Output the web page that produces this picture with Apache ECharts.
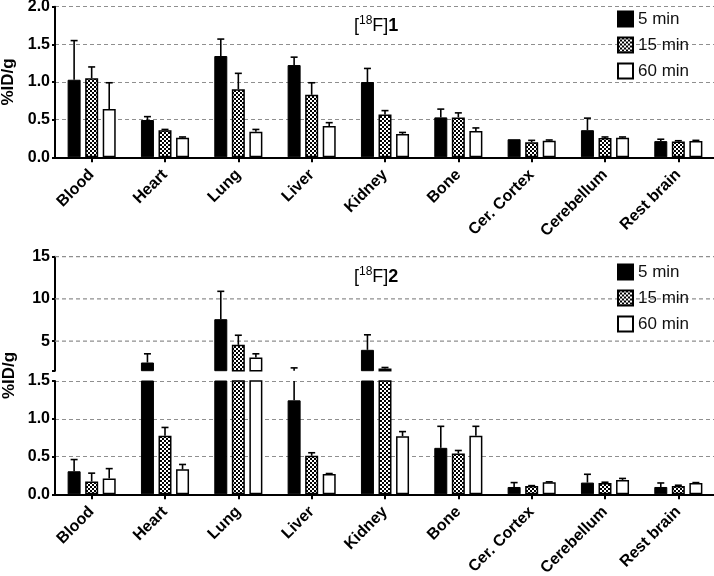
<!DOCTYPE html>
<html><head><meta charset="utf-8">
<script src="https://cdn.jsdelivr.net/npm/echarts@6/dist/echarts.min.js"></script>
<style>html,body{margin:0;padding:0;background:#fff}#c{width:714px;height:576px}</style>
</head><body><div id="c"></div>
<script>
const categories = ['Blood','Heart','Lung','Liver','Kidney','Bone','Cer. Cortex','Cerebellum','Rest brain'];
const seriesNames = ['5 min','15 min','60 min'];

// [18F]1 : means and SD
const c1_5min = [1.03, 0.495, 1.345, 1.225, 1.0, 0.53, 0.24, 0.36, 0.215];
const c1_5min_sd = [0.52, 0.045, 0.225, 0.105, 0.18, 0.11, 0.0, 0.16, 0.025];
const c1_15min = [1.05, 0.36, 0.905, 0.83, 0.57, 0.53, 0.20, 0.255, 0.21];
const c1_15min_sd = [0.15, 0.01, 0.21, 0.16, 0.05, 0.06, 0.025, 0.015, 0.01];
const c1_60min = [0.64, 0.26, 0.34, 0.415, 0.31, 0.35, 0.22, 0.26, 0.215];
const c1_60min_sd = [0.35, 0.01, 0.03, 0.045, 0.02, 0.04, 0.01, 0.01, 0.01];

// [18F]2 : means and SD
const c2_5min = [0.305, 2.47, 7.6, 1.244, 3.97, 0.615, 0.097, 0.155, 0.097];
const c2_5min_sd = [0.155, 1.03, 3.3, 0.59, 1.78, 0.285, 0.058, 0.11, 0.053];
const c2_15min = [0.17, 0.775, 4.56, 0.51, 1.76, 0.54, 0.11, 0.15, 0.11];
const c2_15min_sd = [0.11, 0.11, 1.14, 0.04, 0.12, 0.04, 0.005, 0.01, 0.01];
const c2_60min = [0.21, 0.33, 3.05, 0.27, 0.77, 0.775, 0.16, 0.19, 0.15];
const c2_60min_sd = [0.13, 0.065, 0.45, 0.005, 0.06, 0.125, 0.005, 0.02, 0.005];

const ticksTop = [0, 0.5, 1.0, 1.5, 2.0];
const ticksBreakUpper = [5, 10, 15];
const ticksBreakLower = [0, 0.5, 1.0, 1.5];
const breakAt = 1.5;

const FONT = 'Liberation Sans, Arial, Helvetica, sans-serif';

function checker() {
  const c = document.createElement('canvas'); c.width = 4; c.height = 4;
  const g = c.getContext('2d');
  g.fillStyle = '#fff'; g.fillRect(0, 0, 4, 4);
  g.fillStyle = '#000'; g.fillRect(0, 0, 2, 2); g.fillRect(2, 2, 2, 2);
  return c;
}
const styles = [
  { color: '#000', borderColor: '#000', borderWidth: 1 },
  { color: { image: checker(), repeat: 'repeat' }, borderColor: '#000', borderWidth: 1.5 },
  { color: '#fff', borderColor: '#000', borderWidth: 1.5 }
];

const BAR_W = 13, GAP = 0.35;
const panels = [
  { grid: 0, means: [c1_5min, c1_15min, c1_60min], sds: [c1_5min_sd, c1_15min_sd, c1_60min_sd] },
  { grid: 1, means: [c2_5min, c2_15min, c2_60min], sds: [c2_5min_sd, c2_15min_sd, c2_60min_sd] },
  { grid: 2, means: [c2_5min, c2_15min, c2_60min], sds: [c2_5min_sd, c2_15min_sd, c2_60min_sd] }
];

function errRender(k) {
  return function (params, api) {
    const ci = api.value(0), m = api.value(1), t = api.value(2);
    const cs = params.coordSys;
    const b = api.coord([ci, m]); const tp = api.coord([ci, t]);
    const x = b[0] + (k - 1) * BAR_W * (1 + GAP);
    const clampY = y => Math.min(Math.max(y, cs.y), cs.y + cs.height);
    const y0 = clampY(b[1]), y1 = clampY(tp[1]);
    const children = [];
    const st = { stroke: '#000', lineWidth: 1.6 };
    if (t > m && y0 - y1 > 0.3) children.push({ type: 'line', shape: { x1: x, y1: y0, x2: x, y2: y1 }, style: st });
    if (t > m && tp[1] >= cs.y - 0.5 && tp[1] <= cs.y + cs.height + 0.5)
      children.push({ type: 'line', shape: { x1: x - 3.5, y1: tp[1], x2: x + 3.5, y2: tp[1] }, style: st });
    return { type: 'group', children };
  };
}

const series = [];
// dashed guide lines of the upper (broken) segment
series.push({ type: 'custom', xAxisIndex: 1, yAxisIndex: 1, silent: true, encode: { x: 0, y: 1 },
  data: ticksBreakUpper.map(v => [0, v]),
  renderItem: function (params, api) {
    const cs = params.coordSys; const y = api.coord([0, api.value(1)])[1];
    return { type: 'line', shape: { x1: cs.x, y1: y, x2: cs.x + cs.width, y2: y },
      style: { stroke: '#8f8f8f', lineWidth: 1.2, lineDash: [4, 3] } };
  } });
panels.forEach(p => {
  for (let k = 0; k < 3; k++) series.push({ name: seriesNames[k], type: 'bar', xAxisIndex: p.grid, yAxisIndex: p.grid,
    data: p.means[k], barWidth: BAR_W, barGap: (GAP * 100) + '%', clip: true, itemStyle: styles[k], silent: true });
  for (let k = 0; k < 3; k++) series.push({ type: 'custom', xAxisIndex: p.grid, yAxisIndex: p.grid, silent: true, z: 3,
    renderItem: errRender(k), encode: { x: 0, y: 1 },
    data: categories.map((c, i) => [i, p.means[k][i], p.means[k][i] + p.sds[k][i]]) });
});

const splitDash = { show: true, lineStyle: { color: '#8f8f8f', type: [4, 3], width: 1.2 } };
const axisLineY = { show: true, lineStyle: { color: '#000', width: 2 } };
const yLabel = { color: '#000', fontFamily: FONT, fontWeight: 'bold', fontSize: 16, margin: 5 };
const nameStyle = { color: '#000', fontFamily: FONT, fontWeight: 'bold', fontSize: 17 };

function xAxis(gi, showLabels, showLine) {
  return { type: 'category', gridIndex: gi, data: categories, show: showLine,
    axisLine: { show: showLine, lineStyle: { color: '#000', width: 2 } },
    axisTick: { show: showLine, alignWithLabel: true, length: 5, lineStyle: { color: '#000', width: 2 } },
    axisLabel: { show: showLabels, color: '#000', fontFamily: FONT, fontWeight: 'bold', fontSize: 16, rotate: 45, interval: 0, margin: 15 },
    splitLine: { show: false } };
}

function titleText(n, rich) {
  const top = n === 1 ? 15 : 266;
  if (!rich) return { text: '[18F]' + n, left: 354, top: top, padding: 0, textStyle: { fontFamily: FONT, fontSize: 18, fontWeight: 'normal', color: '#000' } };
  return { text: '{a|[}{s|18}{a|F]}{b|' + n + '}', left: 354, top: top, padding: 0,
    textStyle: { fontFamily: FONT, fontSize: 18, fontWeight: 'normal', color: '#000',
      rich: { a: { fontFamily: FONT, fontSize: 18, color: '#000', lineHeight: 20, verticalAlign: 'bottom' },
              s: { fontFamily: FONT, fontSize: 12, color: '#000', lineHeight: 20, verticalAlign: 'top' },
              b: { fontFamily: FONT, fontSize: 18, fontWeight: 'bold', color: '#000', lineHeight: 20, verticalAlign: 'bottom' } } } };
}

function buildOption(rich) {
  const g = (top, height) => ({ left: 55, top: top, width: 660, height: height, outerBoundsMode: 'none', containLabel: false });
  return {
    animation: false,
    backgroundColor: '#fff',
    title: [titleText(1, rich), titleText(2, rich)],
    grid: [g(6.7, 150.6), g(256.7, 114), g(381, 113.3), g(256.7, 237.6)],
    xAxis: [xAxis(0, true, true), xAxis(1, false, false), xAxis(2, true, true), xAxis(3, false, false)],
    yAxis: [
      { type: 'value', gridIndex: 0, min: ticksTop[0], max: ticksTop[ticksTop.length - 1], interval: 0.5, axisLine: axisLineY,
        axisTick: { show: true, length: 3, lineStyle: { color: '#000', width: 2 } },
        axisLabel: Object.assign({ formatter: v => v.toFixed(1) }, yLabel), splitLine: splitDash,
        name: '%ID/g', nameLocation: 'middle', nameRotate: 90, nameGap: 37, nameTextStyle: nameStyle },
      { type: 'value', gridIndex: 1, min: breakAt, max: 15, axisLine: axisLineY,
        axisTick: { show: true, length: 3, customValues: [breakAt].concat(ticksBreakUpper), lineStyle: { color: '#000', width: 2 } },
        axisLabel: Object.assign({ customValues: ticksBreakUpper, formatter: v => String(v) }, yLabel), splitLine: { show: false } },
      { type: 'value', gridIndex: 2, min: ticksBreakLower[0], max: ticksBreakLower[ticksBreakLower.length - 1], interval: 0.5, axisLine: axisLineY,
        axisTick: { show: true, length: 3, lineStyle: { color: '#000', width: 2 } },
        axisLabel: Object.assign({ formatter: v => v.toFixed(1) }, yLabel), splitLine: splitDash },
      { type: 'value', gridIndex: 3, min: 0, max: 1, show: true,
        axisLine: { show: false }, axisTick: { show: false }, axisLabel: { show: false }, splitLine: { show: false },
        name: '%ID/g', nameLocation: 'middle', nameRotate: 90, nameGap: 37, nameTextStyle: nameStyle }
    ],
    legend: [
      { data: seriesNames, orient: 'vertical', left: 617, top: 10.5, padding: 0, itemWidth: 15, itemHeight: 15, itemGap: 9, icon: 'rect', selectedMode: false,
        textStyle: { fontFamily: FONT, fontSize: 17, color: '#111' } },
      { data: seriesNames, orient: 'vertical', left: 617, top: 263.5, padding: 0, itemWidth: 15, itemHeight: 15, itemGap: 9, icon: 'rect', selectedMode: false,
        textStyle: { fontFamily: FONT, fontSize: 17, color: '#111' } }
    ],
    series: series
  };
}

const el = document.getElementById('c');
let chart = echarts.init(el);
try {
  chart.setOption(buildOption(true));
} catch (e) {
  chart.dispose();
  chart = echarts.init(el);
  chart.setOption(buildOption(false));
}
</script>
</body></html>
